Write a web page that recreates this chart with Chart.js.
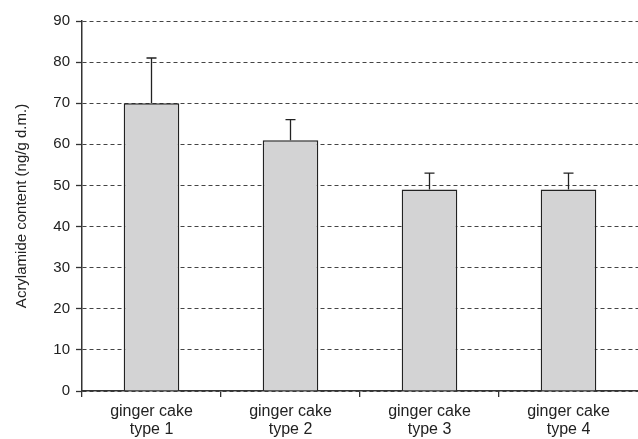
<!DOCTYPE html>
<html>
<head>
<meta charset="utf-8">
<script src="https://cdn.jsdelivr.net/npm/chart.js@4"></script>
<style>
  html, body { margin: 0; padding: 0; background: #fff; }
  #wrap { width: 638px; height: 439px; }
</style>
</head>
<body>
<div id="wrap"><canvas id="chart"></canvas></div>
<script>
// data
const categories = [['ginger cake', 'type 1'], ['ginger cake', 'type 2'], ['ginger cake', 'type 3'], ['ginger cake', 'type 4']];
const acrylamide = [70, 61, 49, 49];
const errorUp = [11, 5, 4, 4];
const yTicks = [0, 10, 20, 30, 40, 50, 60, 70, 80, 90];

// draws the upward error whiskers from the data arrays
const errorBars = {
    id: 'errorBars',
    afterDatasetsDraw(chart) {
        const ctx = chart.ctx;
        const meta = chart.getDatasetMeta(0);
        const y = chart.scales.y;
        ctx.save();
        ctx.strokeStyle = '#222';
        ctx.lineWidth = 1.3;
        meta.data.forEach((bar, i) => {
            const top = y.getPixelForValue(acrylamide[i] + errorUp[i]);
            const base = y.getPixelForValue(acrylamide[i]);
            ctx.beginPath();
            ctx.moveTo(bar.x, base);
            ctx.lineTo(bar.x, top);
            ctx.moveTo(bar.x - 5, top);
            ctx.lineTo(bar.x + 5, top);
            ctx.stroke();
        });
        ctx.restore();
    }
};

const font = 'Liberation Sans, Arial, sans-serif';

const ctx = document.getElementById('chart').getContext('2d');
new Chart(ctx, {
    type: 'bar',
    data: {
        labels: categories,
        datasets: [{
            data: acrylamide,
            backgroundColor: '#d3d3d4',
            borderColor: '#222',
            borderWidth: 1.5,
            categoryPercentage: 1,
            barPercentage: 0.4
        }]
    },
    options: {
        responsive: true,
        maintainAspectRatio: false,
        animation: false,
        layout: { padding: { top: 21, right: 0, left: 0, bottom: 0 } },
        plugins: {
            legend: { display: false },
            tooltip: { enabled: false }
        },
        scales: {
            x: {
                afterFit(scale) { scale.height = 48; },
                grid: {
                    offset: true,
                    drawOnChartArea: false,
                    drawTicks: true,
                    tickLength: 6,
                    // the closing line at the far right has no tick in its context
                    color: c => (c.tick ? '#333' : 'rgba(0,0,0,0)'),
                    lineWidth: 1.3
                },
                border: { color: '#333', width: 1.5 },
                ticks: {
                    color: '#222',
                    font: { family: font, size: 16, lineHeight: 1.1 },
                    padding: 6,
                    maxRotation: 0
                }
            },
            y: {
                min: 0,
                max: 90,
                afterFit(scale) { scale.width = 82; },
                afterBuildTicks(scale) { scale.ticks = yTicks.map(v => ({ value: v })); },
                grid: {
                    color: '#444',
                    lineWidth: 1,
                    tickLength: 6,
                    tickColor: '#333',
                    tickBorderDash: [],
                    tickWidth: 1.3
                },
                border: { color: '#333', width: 1.5, dash: [4, 3] },
                ticks: {
                    color: '#222',
                    font: { family: font, size: 15 },
                    padding: 6
                },
                title: {
                    display: true,
                    text: 'Acrylamide content (ng/g d.m.)',
                    color: '#222',
                    font: { family: font, size: 15 },
                    padding: { top: 13, bottom: 0 }
                }
            }
        }
    },
    plugins: [errorBars]
});
</script>
</body>
</html>
